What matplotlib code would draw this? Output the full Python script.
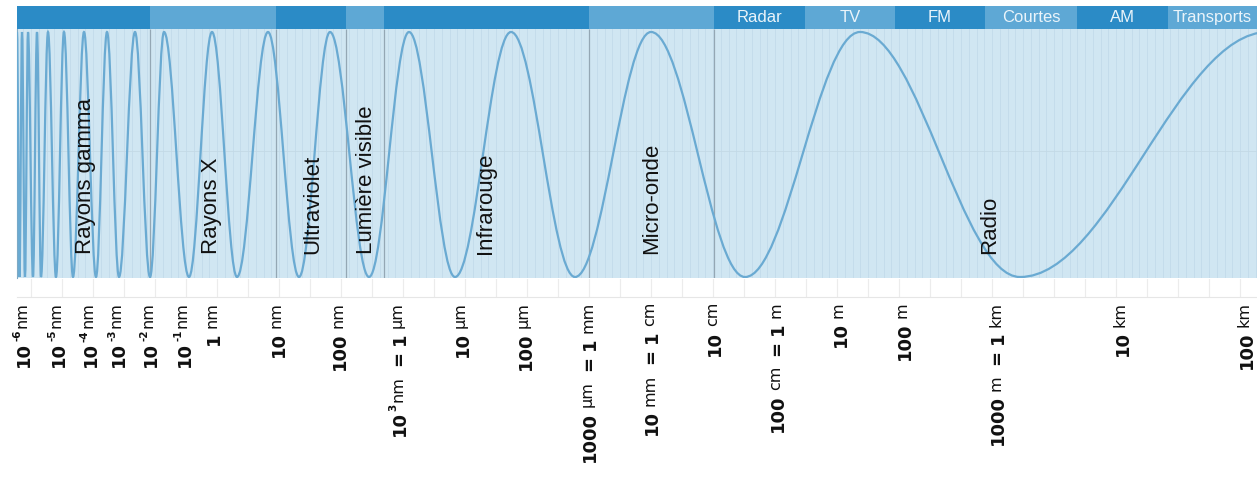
"""
Electromagnetic spectrum strip: region band on top, a stretched wave across the spectrum,
and the wavelength scale written vertically underneath. Writes out.png.
"""
import matplotlib
matplotlib.use("Agg")
import matplotlib.pyplot as plt
from matplotlib.path import Path
from matplotlib.patches import PathPatch
from matplotlib.ticker import MultipleLocator
from matplotlib.transforms import IdentityTransform, blended_transform_factory

W, H, DPI = 1257, 479, 100

# spectrum regions (position along the strip) and their names
region_edges = [17, 150, 276, 346, 384, 589, 714, 1257]
region_names = ["Rayons gamma", "Rayons X", "Ultraviolet", "Lumière visible",
                "Infrarouge", "Micro-onde", "Radio"]
region_label_x = [86, 212, 313, 366, 486, 652, 990]

# top band segments; the radio part is split into its sub-bands
band_edges = [17, 150, 276, 346, 384, 589, 714, 805, 895, 985, 1077, 1168, 1257]
band_names = ["", "", "", "", "", "", "Radar", "TV", "FM", "Courtes", "AM", "Transports"]

# wave extrema along the strip: peak, trough, peak, ...
wave_x = [17, 19.5, 22, 25, 28, 33, 37, 41, 48, 56, 64, 73, 84, 96, 107, 119, 135,
          150, 164, 189, 212, 237, 268, 299, 330, 369, 409, 455, 511, 575, 651, 745,
          860, 1020, 1268]
wave_y = [1, -1, 1, -1, 1, -1, 1, -1, 1, -1, 1, -1, 1, -1, 1, -1, 1,
          -1, 1, -1, 1, -1, 1, -1, 1, -1, 1, -1, 1, -1, 1, -1,
          1, -1, 1]

# wavelength scale: position and label pieces (n = number, s = exponent, u = unit)
tick_x = [22, 57, 89, 117, 149, 183, 212, 277, 338, 398, 461, 524, 588, 650, 713,
          776, 839, 903, 996, 1121, 1245]
tick_labels = [
    [("10", "n"), ("-6", "s"), ("nm", "u")],
    [("10", "n"), ("-5", "s"), ("nm", "u")],
    [("10", "n"), ("-4", "s"), ("nm", "u")],
    [("10", "n"), ("-3", "s"), ("nm", "u")],
    [("10", "n"), ("-2", "s"), ("nm", "u")],
    [("10", "n"), ("-1", "s"), ("nm", "u")],
    [("1", "n"), ("nm", "u")],
    [("10", "n"), ("nm", "u")],
    [("100", "n"), ("nm", "u")],
    [("10", "n"), ("3", "s"), ("nm", "u"), ("=", "n"), ("1", "n"), ("µm", "u")],
    [("10", "n"), ("µm", "u")],
    [("100", "n"), ("µm", "u")],
    [("1000", "n"), ("µm", "u"), ("=", "n"), ("1", "n"), ("mm", "u")],
    [("10", "n"), ("mm", "u"), ("=", "n"), ("1", "n"), ("cm", "u")],
    [("10", "n"), ("cm", "u")],
    [("100", "n"), ("cm", "u"), ("=", "n"), ("1", "n"), ("m", "u")],
    [("10", "n"), ("m", "u")],
    [("100", "n"), ("m", "u")],
    [("1000", "n"), ("m", "u"), ("=", "n"), ("1", "n"), ("km", "u")],
    [("10", "n"), ("km", "u")],
    [("100", "n"), ("km", "u")],
]

DARK, LIGHT = "#2b8bc6", "#5ea8d5"
BG = "#d0e6f2"
WAVE = "#6aaad2"
PIECE_STYLE = {
    "n": dict(fontsize=13, fontweight="bold", family="DejaVu Sans"),
    "s": dict(fontsize=7.5, fontweight="bold", family="DejaVu Sans"),
    "u": dict(fontsize=11.5, family="DejaVu Sans"),
}
PIECE_SHIFT = {"n": 6.5, "s": -1.5, "u": 4.0}   # baseline offset (px) from the tick


def px_axes(fig, x0, y0, x1, y1):
    return fig.add_axes([x0 / W, 1 - y1 / H, (x1 - x0) / W, (y1 - y0) / H])


def wave_path(xs, ys):
    k = 0.3634  # bezier handle giving a half-cosine between two extrema
    verts, codes = [(xs[0], ys[0])], [Path.MOVETO]
    for x0, y0, x1, y1 in zip(xs[:-1], ys[:-1], xs[1:], ys[1:]):
        d = x1 - x0
        verts += [(x0 + k * d, y0), (x1 - k * d, y1), (x1, y1)]
        codes += [Path.CURVE4] * 3
    return Path(verts, codes)


def gap(prev, kind, piece):
    if kind == "s":
        return 0.5
    if prev == "s":
        return 2.0
    if piece == "=" or prev == "=":
        return 10.0
    if kind == "u":
        return 4.5
    return 6.0


def main():
    fig = plt.figure(figsize=(W / DPI, H / DPI), dpi=DPI)
    fig.patch.set_facecolor("white")

    # faint scale grid under the strip
    axg = px_axes(fig, 17, 279, 1257, 297)
    axg.set_xlim(17, 1257)
    axg.set_facecolor("none")
    axg.xaxis.set_minor_locator(MultipleLocator(31.0))
    axg.xaxis.set_major_locator(MultipleLocator(1e4))
    axg.grid(which="minor", axis="x", color="#ececec", lw=0.8)
    axg.tick_params(which="both", length=0, labelbottom=False, labelleft=False)
    for s in ("top", "left", "right"):
        axg.spines[s].set_visible(False)
    axg.spines["bottom"].set_color("#e6e6e6")

    # main strip
    ax = px_axes(fig, 17, 29, 1257, 278)
    lo, hi = -1.0082, 1.0245
    ax.set_xlim(17, 1257)
    ax.set_ylim(lo, hi)
    ax.set_facecolor(BG)
    ax.xaxis.set_minor_locator(MultipleLocator(7.75))
    ax.xaxis.set_major_locator(MultipleLocator(1e4))
    ax.grid(which="minor", axis="x", color="#c2dbea", lw=0.6)
    ax.set_axisbelow(True)
    ax.tick_params(which="both", length=0, labelbottom=False, labelleft=False)
    for s in ("top", "right", "bottom"):
        ax.spines[s].set_visible(False)
    ax.spines["left"].set_color("#7fa9c4")
    ax.axhline(0.03, color="#c3d9e6", lw=0.6, zorder=1)
    ax.vlines(region_edges[1:-1], lo, hi, colors="#94a7b4", lw=0.9, zorder=2)
    ax.add_patch(PathPatch(wave_path(wave_x, wave_y), fc="none", ec=WAVE, lw=1.6,
                           zorder=3, clip_on=True))
    tr = blended_transform_factory(ax.transData, ax.transAxes)
    for x, name in zip(region_label_x, region_names):
        ax.text(x, 0.096, name, transform=tr, rotation=90, ha="center", va="bottom",
                fontsize=16, family="Liberation Sans", color="#111111", zorder=4)

    # top band
    axb = px_axes(fig, 17, 6, 1257, 29)
    widths = [b - a for a, b in zip(band_edges[:-1], band_edges[1:])]
    colors = [DARK if i % 2 == 0 else LIGHT for i in range(len(widths))]
    axb.barh(0, widths, left=band_edges[:-1], height=1, color=colors, lw=0)
    axb.set_xlim(17, 1257)
    axb.set_ylim(-0.5, 0.5)
    axb.axis("off")
    for a, b, name in zip(band_edges[:-1], band_edges[1:], band_names):
        if name:
            axb.text((a + b) / 2, 0.02, name, ha="center", va="center", fontsize=12,
                     family="Liberation Sans", color="#eaf4fa", clip_on=True)

    # wavelength labels, written upwards and ending just under the grid
    renderer = fig.canvas.get_renderer()
    top = H - 302
    for x, pieces in zip(tick_x, tick_labels):
        xd = ax.transData.transform((x, 0))[0]
        texts = []
        for s, kind in pieces:
            t = fig.text(0, 0, s, transform=IdentityTransform(), rotation=90,
                         rotation_mode="anchor", ha="left", va="baseline",
                         color="#111111", **PIECE_STYLE[kind])
            texts.append((t, kind, s, t.get_window_extent(renderer).height))
        gaps = [0.0] + [gap(texts[i - 1][1], texts[i][1], texts[i][2])
                        for i in range(1, len(texts))]
        total = sum(h for *_, h in texts) + sum(gaps)
        y = top - total
        for (t, kind, s, h), g in zip(texts, gaps):
            y += g
            t.set_position((xd + PIECE_SHIFT[kind], y))
            y += h

    fig.savefig("out.png", dpi=DPI, facecolor="white")


if __name__ == "__main__":
    main()
